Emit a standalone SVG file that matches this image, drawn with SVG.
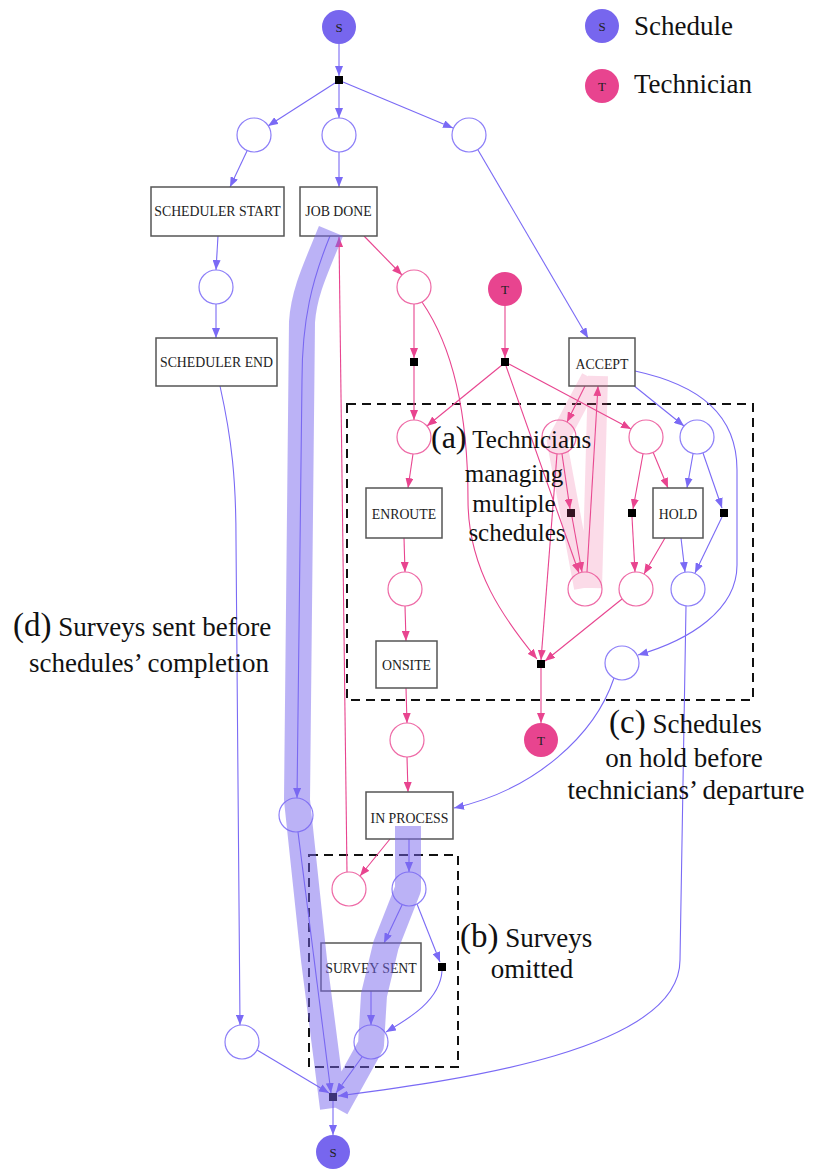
<svg xmlns="http://www.w3.org/2000/svg" width="815" height="1169" viewBox="0 0 815 1169">
<defs>
<marker id="ab" markerUnits="userSpaceOnUse" markerWidth="10" markerHeight="8" refX="10" refY="4" orient="auto"><path d="M0,0 L10,4 L0,8 z" fill="#7a6af5"/></marker>
<marker id="ap" markerUnits="userSpaceOnUse" markerWidth="10" markerHeight="8" refX="10" refY="4" orient="auto"><path d="M0,0 L10,4 L0,8 z" fill="#e8448f"/></marker>
<style>
.eb{fill:none;stroke:#7a6af5;stroke-width:1.1;marker-end:url(#ab)}
.ep{fill:none;stroke:#e8448f;stroke-width:1.1;marker-end:url(#ap)}
.pb{fill:#fff;stroke:#8c7ef8;stroke-width:1.2}
.pp{fill:#fff;stroke:#ee6aa6;stroke-width:1.2}
.tr{fill:#000}
.box{fill:#fff;stroke:#555;stroke-width:1.5}
.lbl{font-size:13.8px;fill:#222;text-anchor:middle}
.tok{font-size:13px;fill:#222;text-anchor:middle}
.sf{fill:#7766ee}
.tf{fill:#e8448f}
.ann{font-size:27px;fill:#111}
.big{font-size:33px}
.dash{fill:none;stroke:#111;stroke-width:2;stroke-dasharray:9,6}
</style>
</defs>

<g id="dashed-boxes">
<rect class="dash" x="347" y="404" width="406" height="296"/>
<rect class="dash" x="309" y="855" width="149" height="212"/>
</g>

<g id="connectors">
<path class="eb" d="M339,44 L339,76"/>
<path class="eb" d="M335,83 L268,126"/>
<path class="eb" d="M339,84 L339,118"/>
<path class="eb" d="M343,82 L453,128"/>
<path class="eb" d="M247,151 L230,187"/>
<path class="eb" d="M339,152 L339,187"/>
<path class="eb" d="M478,150 L588,338"/>
<path class="eb" d="M218,236 L216,270"/>
<path class="eb" d="M216,304 L216,338"/>
<path class="eb" d="M220,386 C232,440 236,480 236,540 L240,1025"/>
<path class="eb" d="M330,236 C312,280 302,320 302,380 L297,798"/>
<path class="eb" d="M298,832 L331,1093"/>
<path class="eb" d="M633,385 L684,426"/>
<path class="eb" d="M635,371 C700,385 737,415 737,470 L737,565 C737,610 690,640 638,655"/>
<path class="eb" d="M693,454 L687,488"/>
<path class="eb" d="M703,453 L722,508"/>
<path class="eb" d="M681,538 L685,572"/>
<path class="eb" d="M722,517 L695,573"/>
<path class="eb" d="M686,606 L680,960 C680,1050 460,1080 338,1096"/>
<path class="eb" d="M614,678 C595,735 535,790 454,808"/>
<path class="eb" d="M409,839 L409,872"/>
<path class="eb" d="M402,905 L384,943"/>
<path class="eb" d="M417,904 L440,962"/>
<path class="eb" d="M371,991 L371,1025"/>
<path class="eb" d="M442,971 C440,1000 410,1018 386,1032"/>
<path class="eb" d="M362,1057 L336,1093"/>
<path class="eb" d="M257,1050 L329,1093"/>
<path class="eb" d="M333,1101 L333,1135"/>

<path class="ep" d="M364,236 L402,275"/>
<path class="ep" d="M414,304 L414,358"/>
<path class="ep" d="M414,366 L414,420"/>
<path class="ep" d="M422,302 C455,350 468,420 468,500 C468,570 505,620 537,659"/>
<path class="ep" d="M505,306 L505,358"/>
<path class="ep" d="M502,365 L427,426"/>
<path class="ep" d="M509,364 L631,429"/>
<path class="ep" d="M506,366 L579,573"/>
<path class="ep" d="M585,386 L567,422"/>
<path class="ep" d="M562,454 L570,509"/>
<path class="ep" d="M557,454 L541,660"/>
<path class="ep" d="M572,517 L582,572"/>
<path class="ep" d="M587,572 L598,386"/>
<path class="ep" d="M643,454 L633,509"/>
<path class="ep" d="M653,452 L668,488"/>
<path class="ep" d="M632,517 L635,572"/>
<path class="ep" d="M665,538 L644,574"/>
<path class="ep" d="M622,599 L545,661"/>
<path class="ep" d="M413,454 L408,488"/>
<path class="ep" d="M404,538 L405,572"/>
<path class="ep" d="M405,606 L406,641"/>
<path class="ep" d="M406,688 L407,723"/>
<path class="ep" d="M541,668 L541,723"/>
<path class="ep" d="M407,757 L408,792"/>
<path class="ep" d="M390,839 L360,876"/>
<path class="ep" d="M347,872 L339,237"/>
</g>

<g id="places">
<circle id="pb1" class="pb" cx="254" cy="135" r="17"/>
<circle id="pb2" class="pb" cx="339" cy="135" r="17"/>
<circle id="pb3" class="pb" cx="469" cy="135" r="17"/>
<circle id="pb4" class="pb" cx="216" cy="287" r="17"/>
<circle id="pb5" class="pb" cx="697" cy="437" r="17"/>
<circle id="pb6" class="pb" cx="688" cy="589" r="17"/>
<circle id="pb7" class="pb" cx="622" cy="663" r="17"/>
<circle id="pb8" class="pb" cx="296" cy="815" r="17"/>
<circle id="pb9" class="pb" cx="409" cy="889" r="17"/>
<circle id="pb10" class="pb" cx="371" cy="1042" r="17"/>
<circle id="pb11" class="pb" cx="242" cy="1042" r="17"/>
<circle id="pp1" class="pp" cx="414" cy="287" r="17"/>
<circle id="pp2" class="pp" cx="414" cy="437" r="17"/>
<circle id="pp3" class="pp" cx="559" cy="437" r="17"/>
<circle id="pp4" class="pp" cx="646" cy="437" r="17"/>
<circle id="pp5" class="pp" cx="405" cy="589" r="17"/>
<circle id="pp6" class="pp" cx="585" cy="589" r="17"/>
<circle id="pp7" class="pp" cx="636" cy="589" r="17"/>
<circle id="pp8" class="pp" cx="407" cy="740" r="17"/>
<circle id="pp9" class="pp" cx="349" cy="889" r="17"/>
</g>

<g id="transitions">
<rect id="t0" class="tr" x="335" y="76" width="8" height="8"/>
<rect id="t1" class="tr" x="410" y="358" width="8" height="8"/>
<rect id="t2" class="tr" x="501" y="358" width="8" height="8"/>
<rect id="t3" class="tr" x="567" y="509" width="8" height="8"/>
<rect id="t4" class="tr" x="628" y="509" width="8" height="8"/>
<rect id="t5" class="tr" x="720" y="509" width="8" height="8"/>
<rect id="t6" class="tr" x="537" y="660" width="8" height="8"/>
<rect id="t7" class="tr" x="438" y="963" width="8" height="8"/>
<rect id="t8" class="tr" x="329" y="1093" width="8" height="8"/>
</g>

<g font-family="'Liberation Serif', 'DejaVu Serif', serif">
<g id="activities">
<g id="scheduler-start"><rect class="box" x="151" y="187" width="133" height="49"/><text class="lbl" x="217.5" y="216">SCHEDULER START</text></g>
<g id="job-done"><rect class="box" x="300" y="187" width="77" height="49"/><text class="lbl" x="338.5" y="216">JOB DONE</text></g>
<g id="scheduler-end"><rect class="box" x="156" y="338" width="121" height="48"/><text class="lbl" x="216.5" y="367">SCHEDULER END</text></g>
<g id="accept"><rect class="box" x="569" y="338" width="66" height="48"/><text class="lbl" x="602" y="369">ACCEPT</text></g>
<g id="enroute"><rect class="box" x="366" y="488" width="76" height="50"/><text class="lbl" x="404" y="519">ENROUTE</text></g>
<g id="hold"><rect class="box" x="653" y="488" width="50" height="50"/><text class="lbl" x="678" y="519">HOLD</text></g>
<g id="onsite"><rect class="box" x="376" y="641" width="61" height="47"/><text class="lbl" x="406.5" y="670">ONSITE</text></g>
<g id="in-process"><rect class="box" x="366" y="792" width="87" height="47"/><text class="lbl" x="409.5" y="823">IN PROCESS</text></g>
<g id="survey-sent"><rect class="box" x="321" y="943" width="100" height="48"/><text class="lbl" x="371" y="973">SURVEY SENT</text></g>
</g>

<g id="tokens">
<g id="s-top"><circle class="sf" cx="339" cy="27" r="17"/><text class="tok" x="339" y="32">S</text></g>
<g id="t-top"><circle class="tf" cx="505" cy="289" r="17"/><text class="tok" x="505" y="294">T</text></g>
<g id="t-bottom"><circle class="tf" cx="541" cy="740" r="17"/><text class="tok" x="541" y="745">T</text></g>
<g id="s-bottom"><circle class="sf" cx="333" cy="1152" r="17"/><text class="tok" x="333" y="1157">S</text></g>
</g>

<g id="highlights">
<path d="M331,231 C316,268 304,292 302,322 L297,800 L314,960 L333,1108 M408,826 L408,889 L386,945 L374,995 L371,1045 L336,1108" fill="none" stroke="#7766ee" stroke-opacity="0.5" stroke-width="26" stroke-linejoin="round"/>
<path d="M584,588 L557,442 L591,378 M598,376 L592,588" fill="none" stroke="#ee5a98" stroke-opacity="0.22" stroke-width="20"/>
</g>

<g id="legend">
<g id="legend-schedule"><circle class="sf" cx="602" cy="26" r="17"/><text class="tok" x="602" y="31">S</text><text class="ann" x="634" y="35">Schedule</text></g>
<g id="legend-technician"><circle class="tf" cx="602" cy="86" r="17"/><text class="tok" x="602" y="91">T</text><text class="ann" x="634" y="93">Technician</text></g>
</g>

<g id="annotations">
<text class="ann" x="431" y="448" style="font-size:25px"><tspan style="font-size:32px">(a)</tspan> Technicians</text>
<text class="ann" x="514" y="482" text-anchor="middle" style="font-size:25px">managing</text>
<text class="ann" x="514" y="512" text-anchor="middle" style="font-size:25px">multiple</text>
<text class="ann" x="517" y="541" text-anchor="middle" style="font-size:25px">schedules</text>
<text class="ann" x="460" y="947"><tspan class="big">(b)</tspan> Surveys</text>
<text class="ann" x="532" y="978" text-anchor="middle">omitted</text>
<text class="ann" x="609" y="733"><tspan class="big">(c)</tspan> Schedules</text>
<text class="ann" x="684" y="767" text-anchor="middle">on hold before</text>
<text class="ann" x="686" y="799" text-anchor="middle">technicians’ departure</text>
<text class="ann" x="13" y="636"><tspan class="big">(d)</tspan> Surveys sent before</text>
<text class="ann" x="149" y="672" text-anchor="middle">schedules’ completion</text>
</g>
</g>
</svg>
